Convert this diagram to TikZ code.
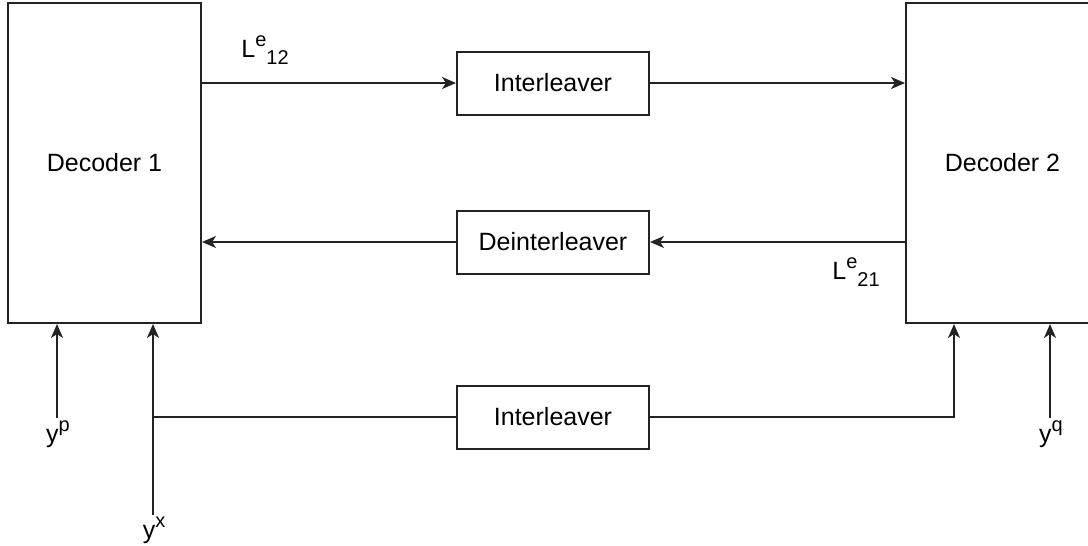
\documentclass[tikz,border=0pt]{standalone}
\usepackage{fontspec}
\setmainfont{Liberation Sans}
\usetikzlibrary{arrows.meta}
\definecolor{ink}{RGB}{35,35,35}
% raised and lowered indices at about four fifths of the body size
\newcommand{\upidx}[1]{\raisebox{0.42em}{\fontsize{20}{24}\selectfont #1}}
\newcommand{\dnidx}[1]{\raisebox{-0.28em}{\fontsize{20}{24}\selectfont #1}}
\tikzset{
  blockbox/.style={draw=ink, line width=2pt, inner sep=0pt, minimum width=192pt, minimum height=63pt, font=\fontsize{25}{30}\selectfont},
  decbox/.style={blockbox, minimum width=193pt, minimum height=320pt},
  lbl/.style={inner sep=0pt, font=\fontsize{25}{30}\selectfont},
  link/.style={draw=ink, line width=2pt, -{Stealth[length=14pt, width=12pt, inset=4pt]}},
  wire/.style={draw=ink, line width=2pt}
}
\begin{document}
\begin{tikzpicture}[x=1pt, y=-1pt]
  \clip (0,0) rectangle (1088,546);
  \fill[white] (0,0) rectangle (1088,546);

  % decoders
  \node[decbox] (dec1) at (104.5,163) {Decoder 1};
  \node[decbox] (dec2) at (1002.5,163) {Decoder 2};

  % interleaving stages
  \node[blockbox] (il1) at (553,83) {Interleaver};
  \node[blockbox] (dil) at (553,242) {Deinterleaver};
  \node[blockbox] (il2) at (553,417) {Interleaver};

  % channel inputs
  \node[lbl, anchor=north] (yp) at (58,421) {y\upidx{p}};
  \node[lbl, anchor=north] (yx) at (154,517) {y\upidx{x}};
  \node[lbl, anchor=north] (yq) at (1051,421) {y\upidx{q}};
  \coordinate (ypin) at (57,418);
  \coordinate (yxin) at (153,515);
  \coordinate (yqin) at (1050,418);

  % extrinsic information labels
  \node[lbl] (l12) at (265,50) {L\upidx{e}\dnidx{12}};
  \node[lbl] (l21) at (856,272) {L\upidx{e}\dnidx{21}};

  % forward path: decoder 1 -> interleaver -> decoder 2
  \draw[link] (dec1.east |- il1.west) -- (il1.west);
  \draw[link] (il1.east) -- (dec2.west |- il1.east);

  % feedback path: decoder 2 -> deinterleaver -> decoder 1
  \draw[link] (dec2.west |- dil.east) -- (dil.east);
  \draw[link] (dil.west) -- (dec1.east |- dil.west);

  % systematic input
  \draw[link] (yxin) -- (yxin |- dec1.south);
  \draw[wire] (yxin |- il2.west) -- (il2.west);
  \draw[link] (il2.east) -| ([xshift=-48.5pt]dec2.south);

  % parity inputs
  \draw[link] (ypin) -- (ypin |- dec1.south);
  \draw[link] (yqin) -- (yqin |- dec2.south);
\end{tikzpicture}
\end{document}
